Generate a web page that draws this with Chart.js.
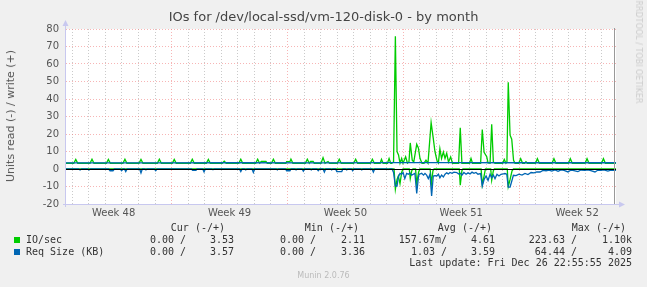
<!DOCTYPE html>
<html>
<head>
<meta charset="utf-8">
<script src="https://cdn.jsdelivr.net/npm/chart.js@4/dist/chart.umd.min.js"></script>
<style>
  body { margin: 0; background: #f0f0f0; }
  #wrap { position: relative; width: 647px; height: 287px; overflow: hidden; font-family: "DejaVu Sans", sans-serif; }
  #c { position: absolute; left: 0; top: 0; }
  .t { position: absolute; white-space: pre; line-height: 12px; }
  .m { font-family: "DejaVu Sans Mono", monospace; font-size: 10px; color: #333; }
  .sq { position: absolute; width: 6px; height: 6px; }
</style>
</head>
<body>
<div id="wrap">
  <canvas id="c" width="647" height="287"></canvas>
  <div class="t" style="left:0;width:647px;top:11px;text-align:center;font-size:13px;color:#444;">IOs for /dev/local-ssd/vm-120-disk-0 - by month</div>
  <div class="t" style="left:11px;top:116px;font-size:11px;color:#555;transform:translate(-50%,-50%) rotate(-90deg);">Units read (-) / write (+)</div>
  <div class="t" style="left:638px;top:52px;font-size:8px;color:#ccc;transform:translate(-50%,-50%) rotate(90deg);">RRDTOOL / TOBI OETIKER</div>
  <div id="legend"></div>
  <div class="t" style="left:0;width:647px;top:270px;text-align:center;font-size:8px;color:#bbb;">Munin 2.0.76</div>
</div>
<script>
// time axis in days, integer = day gridline, week starts on day 6, 13, 20, 27
const weekLabels = ['Week 48', 'Week 49', 'Week 50', 'Week 51', 'Week 52'];
const weekMid = [2.5, 9.5, 16.5, 23.5, 30.5];
const yTicks = [-20, -15, -10, -5, 0, 5, 10, 15, 20, 25, 30, 35, 40, 45, 50, 55, 60, 65, 70, 75, 80];

// IO/sec write (+)
const ioWriteDays = [-0.38,
  0.09, 0.21, 0.33, 1.07, 1.19, 1.31, 2.06, 2.18, 2.30, 3.06, 3.18, 3.30, 4.03, 4.15, 4.27,
  5.14, 5.26, 5.38, 6.04, 6.16, 6.28, 7.13, 7.25, 7.37, 8.10, 8.22, 8.34, 9.06, 9.18, 9.30,
  10.06, 10.18, 10.30, 11.08, 11.20, 11.32, 11.42, 11.70, 11.78, 12.03, 12.15, 12.27,
  12.90, 12.95, 13.15, 13.21, 13.33, 14.08, 14.20, 14.32, 14.40, 14.55, 14.62,
  15.03, 15.15, 15.27, 15.45, 15.55, 16.01, 16.13, 16.25, 17.00, 17.12, 17.24,
  18.01, 18.13, 18.25, 18.60, 18.68, 18.78, 19.04, 19.14, 19.24,
  19.30, 19.41, 19.52, 19.62, 19.71, 19.80, 19.90, 19.98, 20.14, 20.25, 20.34, 20.42, 20.54, 20.63,
  20.81, 20.91, 21.01, 21.13, 21.25, 21.37, 21.49, 21.68, 21.81, 21.91, 22.03, 22.12, 22.21, 22.31,
  22.42, 22.52, 22.62, 22.73, 22.86, 22.97, 23.34, 23.44, 23.54, 24.00, 24.09, 24.18,
  24.67, 24.77, 24.88, 25.04, 25.12, 25.24, 25.34, 25.44, 25.54, 26.00, 26.10, 26.20,
  26.26, 26.34, 26.45, 26.55, 26.66, 26.75, 26.97, 27.09, 27.21, 27.33, 27.41, 27.49,
  27.98, 28.10, 28.22, 28.98, 29.10, 29.22, 29.97, 30.09, 30.21, 30.98, 31.10, 31.22,
  31.97, 32.09, 32.21, 32.85];
const ioWriteVals = [3.3,
  3.3, 5.5, 3.3, 3.3, 5.6, 3.3, 3.3, 5.5, 3.3, 3.3, 5.6, 3.3, 3.3, 5.5, 3.3,
  3.3, 5.6, 3.3, 3.3, 5.5, 3.3, 3.3, 5.6, 3.3, 3.3, 5.5, 3.3, 3.3, 4.5, 3.3,
  3.3, 5.6, 3.3, 3.3, 5.6, 3.3, 4.3, 4.3, 3.3, 3.3, 5.6, 3.3,
  3.3, 4.2, 4.2, 5.6, 3.3, 3.3, 5.6, 3.3, 4.3, 4.3, 3.3,
  3.3, 6.5, 3.3, 4.3, 3.3, 3.3, 5.6, 3.3, 3.3, 5.6, 3.3,
  3.3, 5.6, 3.3, 3.3, 5.5, 3.3, 3.3, 6.0, 3.3,
  3.3, 4.0, 75.8, 10, 8, 3.3, 6, 3.3, 7, 3.3, 4, 14.9, 5, 4,
  14.1, 12, 6, 3.3, 3.3, 5, 3.3, 26.5, 17.5, 10, 5, 3.5, 11.6, 6,
  9.7, 6, 9, 4, 6.9, 3.3, 3.3, 23.5, 3.3, 3.3, 6, 3.3,
  3.3, 22.6, 9.5, 7, 3.5, 3.3, 25.5, 4, 3.3, 3.3, 5.5, 3.3,
  4, 49.6, 19.3, 17, 5, 3.3, 3.3, 5.9, 3.3, 3.3, 4.2, 3.3,
  3.3, 5.9, 3.3, 3.3, 5.9, 3.3, 3.3, 5.9, 3.3, 3.3, 5.9, 3.3,
  3.3, 5.9, 3.3, 3.3];

// IO/sec read (-)
const ioReadDays = [-0.38, 19.44, 19.52, 19.62, 19.70, 19.80, 19.90, 19.98, 20.36, 20.42, 20.51, 20.58,
  20.74, 20.81, 20.92, 21.00, 21.62, 21.70, 21.79, 21.86, 23.38, 23.44, 23.54, 23.60,
  24.70, 24.77, 24.88, 24.96, 25.28, 25.34, 25.44, 25.50, 26.28, 26.34, 26.45, 26.57, 26.65, 32.85];
const ioReadVals = [0, 0, -11.6, -6, -4, -8.4, -2, 0, 0, -5.5, -1, 0,
  0, -8.4, -2, 0, 0, -8.4, -1, 0, 0, -9.3, -1, 0,
  0, -9, -4, 0, 0, -6.4, -1, 0, 0, -10, -6, -1, 0, 0];

// Req Size (KB) write (+)
const sizeWriteDays = [-0.38, 5, 10, 15, 19.5, 23, 27, 32.85];
const sizeWriteVals = [3.55, 3.55, 3.57, 3.55, 3.6, 3.62, 3.58, 3.57];

// Req Size (KB) read (-)
const sizeReadDays = [-0.38,
  0.38, 0.47, 0.56, 0.92, 1.01, 1.10, 2.20, 2.28, 2.46, 2.54, 2.90, 2.98, 3.06, 3.15, 3.23, 3.31,
  4.07, 4.15, 4.23, 4.38, 4.45, 4.52, 4.96, 5.04, 5.12, 7.20, 7.27, 7.47, 7.54,
  7.88, 7.96, 8.04, 8.43, 8.50, 8.57, 10.10, 10.18, 10.26, 10.41, 10.48, 10.55,
  10.86, 10.94, 11.02, 12.32, 12.39, 12.46, 12.88, 12.95, 13.15, 13.22, 13.45, 13.52, 13.59,
  13.88, 13.96, 14.04, 14.37, 14.44, 14.51, 14.78, 14.86, 14.94, 15.15, 15.23, 15.31,
  15.60, 15.67, 15.74, 15.91, 15.98, 16.28, 16.35, 16.51, 16.58, 16.65, 16.87, 16.94, 17.01,
  17.42, 17.49, 17.56, 18.11, 18.19, 18.27, 19.01, 19.08, 19.15,
  19.32, 19.41, 19.52, 19.62, 19.70, 19.80, 19.90, 19.99, 20.09, 20.20, 20.31, 20.39, 20.51, 20.60,
  20.70, 20.81, 20.92, 20.97, 21.11, 21.22, 21.31, 21.41, 21.51, 21.61, 21.71, 21.81, 21.91, 22.02,
  22.12, 22.21, 22.31, 22.42, 22.52, 22.62, 22.72, 22.82, 22.94, 23.06, 23.23, 23.34, 23.44, 23.54,
  23.66, 23.79, 23.91, 24.03, 24.15, 24.27, 24.39, 24.51, 24.67, 24.77, 24.88, 25.00, 25.12, 25.24,
  25.34, 25.44, 25.54, 25.66, 25.78, 25.90, 26.04, 26.14, 26.25, 26.34, 26.45, 26.55, 26.65, 26.81,
  26.99, 27.17, 27.35, 27.53, 27.72, 27.90, 28.06, 28.26, 28.44, 28.62, 28.80, 28.97, 29.17, 29.35,
  29.53, 29.71, 29.95, 30.13, 30.31, 30.55, 30.73, 30.97, 31.15, 31.33, 31.58, 31.76, 31.94, 32.12,
  32.36, 32.54, 32.72, 32.85];
const sizeReadVals = [0,
  0, -0.6, 0, 0, -0.6, 0, 0, -1, -1, 0, 0, -1, 0, 0, -1.5, 0,
  0, -2.3, 0, 0, -0.5, 0, 0, -1, 0, 0, -0.8, -0.8, 0,
  0, -1.7, 0, 0, -0.4, 0, 0, -1.5, 0, 0, -0.5, 0,
  0, -2, 0, 0, -0.5, 0, 0, -1, -1, 0, 0, -0.5, 0,
  0, -1.3, 0, 0, -0.5, 0, 0, -1, 0, 0, -1.8, 0,
  0, -0.5, 0, 0, -1.5, -1.5, 0, 0, -0.5, 0, 0, -1, 0,
  0, -0.5, 0, 0, -1.8, 0, 0, -0.3, 0,
  0, -2, -9.7, -9.7, -4.5, -2.5, -3, -2, -5.5, -2.5, -3, -2.2, -3.5, -3,
  -2.5, -14, -4, -3, -2.5, -3.5, -2.5, -3.5, -5.5, -3, -15.4, -4, -3.8, -4,
  -3, -5, -3.5, -4.6, -3, -2.2, -2.8, -2, -2.5, -1.8, -2, -2.8, -2.4, -3.5,
  -2, -3, -2.2, -2.8, -1.8, -2.5, -2, -3, -2.6, -9.7, -6, -4, -6.5, -3,
  -5, -3.5, -5.5, -3, -4, -3, -2.8, -2.6, -3, -10.3, -10.3, -7, -3.6, -3.8,
  -3, -3.5, -2.5, -3.2, -2, -2.2, -1.7, -1.7, -0.8, -1, -0.6, -1.2, -0.5, -1.3,
  -0.5, -0.8, -1.7, -0.6, -0.9, -1.5, -0.6, -0.8, -0.5, -0.9, -1.7, -0.6, -0.8, -0.5,
  -1.2, -0.7, -0.8, -0.8];

// legend table
const seriesNames = ['IO/sec', 'Req Size (KB)'];
const seriesColors = ['#00cc00', '#0066b3'];
const curVals = [['0.00 /', '3.53'], ['0.00 /', '3.57']];
const minVals = [['0.00 /', '2.11'], ['0.00 /', '3.36']];
const avgVals = [['157.67m/', '4.61'], ['1.03 /', '3.59']];
const maxVals = [['223.63 /', '1.10k'], ['64.44 /', '4.09']];
const lastUpdate = 'Last update: Fri Dec 26 22:55:55 2025';

const toPoints = (xs, ys) => xs.map((x, i) => ({ x, y: ys[i] }));

const RED = 'rgba(240,120,120,0.55)';
const GRAY = 'rgba(150,150,150,0.5)';

const frame = {
  id: 'frame',
  beforeDraw(chart) {
    const { ctx, chartArea: a } = chart;
    ctx.save();
    ctx.fillStyle = '#fff';
    ctx.fillRect(a.left, a.top, a.right - a.left, a.bottom - a.top);
    ctx.restore();
  },
  afterDatasetsDraw(chart) {
    const { ctx, chartArea: a, scales: { y } } = chart;
    const y0 = Math.round(y.getPixelForValue(0)) + 0.5;
    ctx.save();
    ctx.strokeStyle = '#000';
    ctx.lineWidth = 1.2;
    ctx.beginPath(); ctx.moveTo(a.left, y0); ctx.lineTo(a.right, y0); ctx.stroke();
    // axis lines with arrows
    ctx.strokeStyle = '#c8c8ef';
    ctx.fillStyle = '#c8c8ef';
    ctx.lineWidth = 1;
    ctx.beginPath();
    ctx.moveTo(a.left - 0.5, a.bottom + 3); ctx.lineTo(a.left - 0.5, a.top - 4);
    ctx.moveTo(a.left - 3, a.bottom + 0.5); ctx.lineTo(a.right + 4, a.bottom + 0.5);
    ctx.stroke();
    ctx.beginPath();
    ctx.moveTo(a.left - 3.5, a.top - 3); ctx.lineTo(a.left + 2.5, a.top - 3); ctx.lineTo(a.left - 0.5, a.top - 9);
    ctx.closePath(); ctx.fill();
    ctx.beginPath();
    ctx.moveTo(a.right + 3, a.bottom - 2.5); ctx.lineTo(a.right + 3, a.bottom + 3.5); ctx.lineTo(a.right + 9, a.bottom + 0.5);
    ctx.closePath(); ctx.fill();
    ctx.strokeStyle = '#999';
    ctx.beginPath(); ctx.moveTo(a.right - 1.5, a.top - 1); ctx.lineTo(a.right - 1.5, a.bottom); ctx.stroke();
    ctx.restore();
  }
};

const line = (data, color, order) => ({
  data, borderColor: color, borderWidth: 1.3, pointRadius: 0, tension: 0, fill: false, order
});

new Chart(document.getElementById('c'), {
  type: 'line',
  data: {
    datasets: [
      line(toPoints(sizeWriteDays, sizeWriteVals), seriesColors[1], 1),
      line(toPoints(sizeReadDays, sizeReadVals), seriesColors[1], 2),
      line(toPoints(ioWriteDays, ioWriteVals), seriesColors[0], 3),
      line(toPoints(ioReadDays, ioReadVals), seriesColors[0], 4)
    ]
  },
  options: {
    responsive: false,
    devicePixelRatio: 1,
    animation: false,
    layout: { padding: { left: 0, top: 29, right: 31, bottom: 0 } },
    plugins: { legend: { display: false }, tooltip: { enabled: false } },
    scales: {
      x: {
        type: 'linear',
        min: -0.38,
        max: 32.85,
        afterBuildTicks: s => {
          const days = [];
          for (let d = 0; d <= 32; d++) days.push({ value: d });
          s.ticks = days.concat(weekMid.map(v => ({ value: v })));
        },
        afterFit: s => { s.height = 83; },
        ticks: {
          autoSkip: false, maxRotation: 0, padding: 3,
          color: '#555', font: { family: 'DejaVu Sans', size: 10 },
          callback: v => {
            const i = weekMid.indexOf(v);
            return i >= 0 ? weekLabels[i] : '';
          }
        },
        grid: {
          drawTicks: false,
          lineWidth: 1,
          color: c => {
            const v = c.tick ? c.tick.value : 0;
            if (!Number.isInteger(v)) return 'transparent';
            return (v - 6) % 7 === 0 ? RED : GRAY;
          }
        },
        border: { display: false, dash: [1, 2] }
      },
      y: {
        min: -20,
        max: 80,
        afterBuildTicks: s => { s.ticks = yTicks.map(v => ({ value: v })); },
        afterFit: s => { s.width = 66; },
        ticks: {
          padding: 7, color: '#555', font: { family: 'DejaVu Sans', size: 10 },
          callback: v => (v % 10 === 0 ? String(v) : '')
        },
        grid: {
          drawTicks: false,
          lineWidth: 1,
          color: c => (c.tick && c.tick.value % 10 === 0 ? RED : GRAY)
        },
        border: { display: false, dash: [1, 2] }
      }
    }
  },
  plugins: [frame]
});

// legend table below the chart
const legend = document.getElementById('legend');
const put = (text, right, cy, left) => {
  const el = document.createElement('div');
  el.className = 't m';
  el.textContent = text;
  el.style.top = (cy - 6) + 'px';
  if (left !== undefined) el.style.left = left + 'px';
  else el.style.right = (647 - right) + 'px';
  legend.appendChild(el);
};
put('Cur (-/+)', 225, 228);
put('Min (-/+)', 359, 228);
put('Avg (-/+)', 492, 228);
put('Max (-/+)', 626, 228);
const rowY = [240, 252];
seriesNames.forEach((name, i) => {
  const sq = document.createElement('div');
  sq.className = 'sq';
  sq.style.left = '14px';
  sq.style.top = (rowY[i] - 3) + 'px';
  sq.style.background = seriesColors[i];
  legend.appendChild(sq);
  put(name, 0, rowY[i], 26);
  [[curVals, 186, 234], [minVals, 316, 365], [avgVals, 447, 495], [maxVals, 577, 632]].forEach(([vals, r1, r2]) => {
    put(vals[i][0], r1, rowY[i]);
    put(vals[i][1], r2, rowY[i]);
  });
});
put(lastUpdate, 632, 263);
</script>
</body>
</html>
